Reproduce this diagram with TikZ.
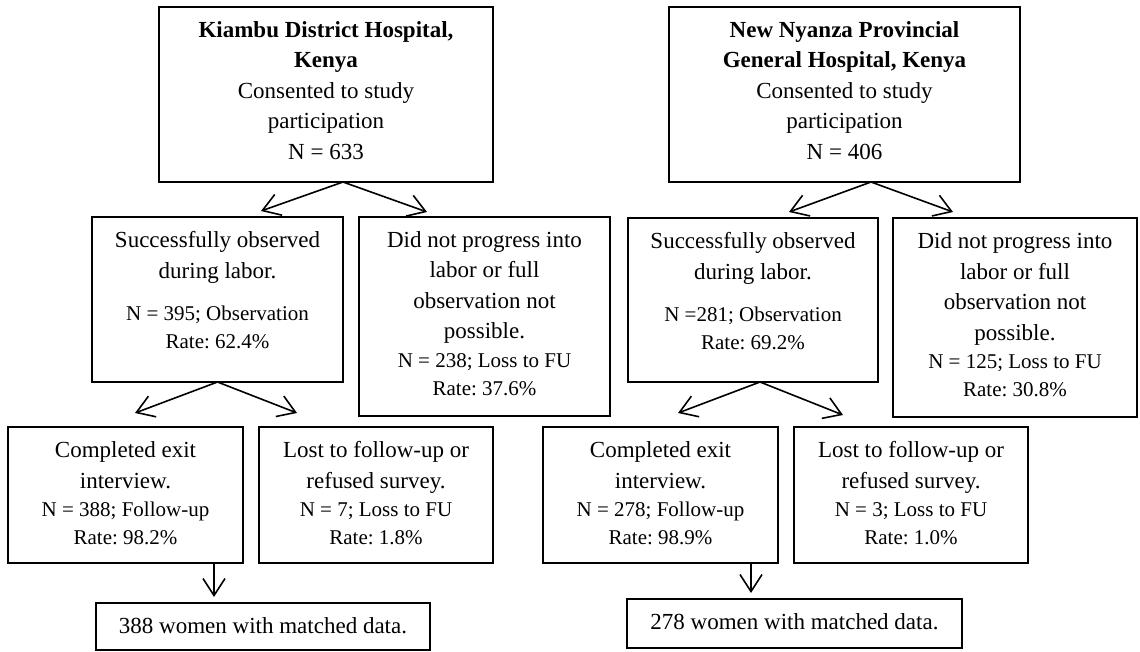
\documentclass[tikz,border=0pt]{standalone}
\usepackage{fontspec}
\setmainfont{Liberation Serif}
\usetikzlibrary{arrows.meta}
\frenchspacing
\newcommand\mfont{\fontsize{23}{30.5}\selectfont}
\newcommand\sfnt{\fontsize{21}{28}\selectfont}
\newcommand\bxt[3]{\parbox[c][#2pt][t]{#1pt}{\centering\frenchspacing\mfont\rule{0pt}{30.5pt}#3\par}}
\begin{document}
\begin{tikzpicture}[x=1pt,y=-1pt,
  bx/.style={draw=black,line width=1.8pt,inner sep=0pt,outer sep=0pt,anchor=center},
  arr/.style={line width=1.6pt,-{Straight Barb[length=17pt,width=22pt]}}]
\useasboundingbox (0,0) rectangle (1140,652);
% left column
\node[bx] (A) at (326,94.5) {\bxt{334}{175}{{\bfseries Kiambu District Hospital,\\Kenya}\\Consented to study\\participation\\N = 633}};
\node[bx] (B) at (217.5,299.5) {\bxt{251}{165}{Successfully observed\\during labor.\par\vspace{14pt}\sfnt N = 395; Observation\\Rate: 62.4\%}};
\node[bx] (C) at (484.5,316.5) {\bxt{251}{199}{Did not progress into\\labor or full\\observation not\\possible.\par\sfnt N = 238; Loss to FU\\Rate: 37.6\%}};
\node[bx] (G) at (125.5,495) {\bxt{235}{136}{Completed exit\\interview.\par\sfnt N = 388; Follow-up\\Rate: 98.2\%}};
\node[bx] (H) at (376,495) {\bxt{234}{136}{Lost to follow-up or\\refused survey.\par\sfnt N = 7; Loss to FU\\Rate: 1.8\%}};
\node[bx] (I) at (263,626.5) {\bxt{334}{47}{388 women with matched data.}};
% right column
\node[bx] (F) at (844.5,94.5) {\bxt{351}{175}{{\bfseries New Nyanza Provincial\\General Hospital, Kenya}\\Consented to study\\participation\\N = 406}};
\node[bx] (D) at (753,300) {\bxt{250}{164}{Successfully observed\\during labor.\par\vspace{14pt}\sfnt N =281; Observation\\Rate: 69.2\%}};
\node[bx] (E) at (1015,317.5) {\bxt{244}{199}{Did not progress into\\labor or full\\observation not\\possible.\par\sfnt N = 125; Loss to FU\\Rate: 30.8\%}};
\node[bx] (J) at (660.5,495) {\bxt{235}{136}{Completed exit\\interview.\par\sfnt N = 278; Follow-up\\Rate: 98.9\%}};
\node[bx] (K) at (911,495) {\bxt{234}{136}{Lost to follow-up or\\refused survey.\par\sfnt N = 3; Loss to FU\\Rate: 1.0\%}};
\node[bx] (L) at (794.5,623.5) {\bxt{335}{49}{278 women with matched data.}};
% arrow tips (free ends)
\coordinate (tAB) at (261,211);
\coordinate (tAC) at (427,212);
\coordinate (tBG) at (135,413);
\coordinate (tBH) at (297,413);
\coordinate (tGI) at (214,597);
\coordinate (tFD) at (789,212);
\coordinate (tFE) at (953,212);
\coordinate (tDJ) at (678,413);
\coordinate (tDK) at (843,415);
\coordinate (tJL) at (751,593);
% connectors
\draw[arr] ([xshift=17pt]A.south) -- (tAB);
\draw[arr] ([xshift=17pt]A.south) -- (tAC);
\draw[arr] (B.south) -- (tBG);
\draw[arr] (B.south) -- (tBH);
\draw[arr] (G.south -| tGI) -- (tGI);
\draw[arr] ([xshift=26.5pt]F.south) -- (tFD);
\draw[arr] ([xshift=26.5pt]F.south) -- (tFE);
\draw[arr] ([xshift=7pt]D.south) -- (tDJ);
\draw[arr] ([xshift=7pt]D.south) -- (tDK);
\draw[arr] (J.south -| tJL) -- (tJL);
\end{tikzpicture}
\end{document}
